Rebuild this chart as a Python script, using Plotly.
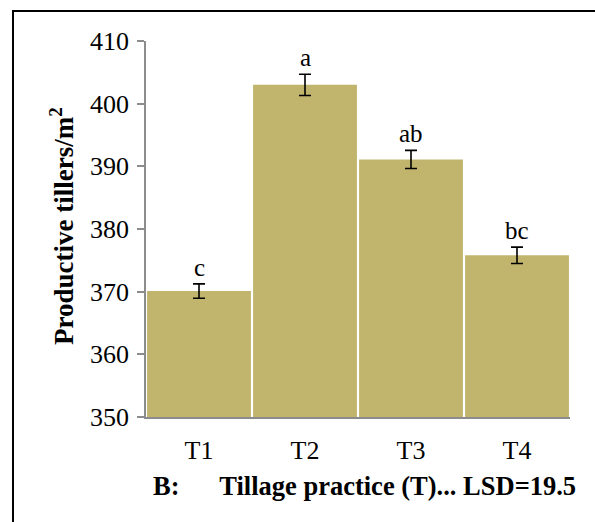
import plotly.graph_objects as go

categories = ["T1", "T2", "T3", "T4"]
values = [370.1, 403.0, 391.1, 375.8]
errors = [1.15, 1.7, 1.45, 1.3]
letters = ["c", "a", "ab", "bc"]
y_ticks = [350, 360, 370, 380, 390, 400, 410]

W, H = 595, 522
L, R, T, B = 146, 25, 41, 105
pw, ph = W - L - R, H - T - B

def px2paper_x(px):
    return (px - L) / pw

def px2paper_y(py):
    return (H - B - py) / ph

FONT = "Liberation Serif, Times New Roman, serif"
bar_color = "#C1B56E"

fig = go.Figure()
fig.add_trace(go.Bar(
    x=categories, y=values,
    marker=dict(color=bar_color, line=dict(width=0)),
    error_y=dict(type="data", array=errors, visible=True, color="black", thickness=1.6, width=6),
    showlegend=False,
))

annotations = []
for c, v, e, t in zip(categories, values, errors, letters):
    annotations.append(dict(x=c, y=v + e, xref="x", yref="y", text=t, showarrow=False,
                            yanchor="bottom", yshift=1, font=dict(family=FONT, size=25, color="black")))

annotations.append(dict(
    x=px2paper_x(364), y=px2paper_y(486), xref="paper", yref="paper",
    text="<b>B:" + "\u00a0" * 6 + "Tillage practice (T)... LSD=19.5</b>",
    showarrow=False, xanchor="center", yanchor="middle",
    font=dict(family=FONT, size=26.5, color="black")))

annotations.append(dict(
    x=px2paper_x(62), y=px2paper_y(226), xref="paper", yref="paper",
    text="<b>Productive tillers/m<sup>2</sup></b>", textangle=-90,
    showarrow=False, xanchor="center", yanchor="middle",
    font=dict(family=FONT, size=27, color="black")))

shapes = [
    dict(type="line", xref="paper", yref="paper", x0=px2paper_x(13), x1=px2paper_x(13),
         y0=px2paper_y(11), y1=px2paper_y(540), line=dict(color="black", width=2)),
    dict(type="line", xref="paper", yref="paper", x0=px2paper_x(12), x1=px2paper_x(620),
         y0=px2paper_y(11), y1=px2paper_y(11), line=dict(color="black", width=2)),
]

fig.update_layout(
    width=W, height=H,
    margin=dict(l=L, r=R, t=T, b=B, autoexpand=False),
    paper_bgcolor="white", plot_bgcolor="white",
    bargap=0.02,
    font=dict(family=FONT, size=25, color="black"),
    xaxis=dict(showline=True, linecolor="#8c8c8c", linewidth=1.5, ticks="", showgrid=False,
               tickfont=dict(family=FONT, size=26), ticklabelstandoff=9),
    yaxis=dict(range=[350, 410], tickvals=y_ticks, showline=True, linecolor="#8c8c8c", linewidth=1.5,
               ticks="outside", ticklen=7, tickcolor="#8c8c8c", tickwidth=1.5, showgrid=False,
               zeroline=False, tickfont=dict(family=FONT, size=26), ticklabelstandoff=3),
    annotations=annotations,
    shapes=shapes,
)

fig.write_html("out.html")
